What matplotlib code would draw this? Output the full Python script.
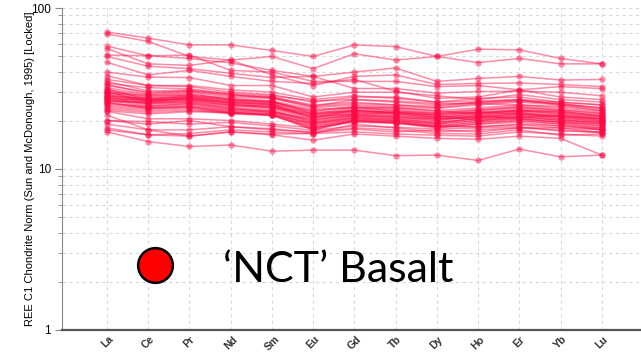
import matplotlib.pyplot as plt
from matplotlib.ticker import LogLocator, NullFormatter, FixedFormatter, FixedLocator

elements = ['La', 'Ce', 'Pr', 'Nd', 'Sm', 'Eu', 'Gd', 'Tb', 'Dy', 'Ho', 'Er', 'Yb', 'Lu']
y_ticks = [1, 10, 100]
y_tick_labels = ['1', '10', '100']

# enriched samples above the main band
high_samples = [
    [71, 65, 59, 59, 54.5, 50, 59, 57.6, 50, 55.5, 55, 48.6, 45],
    [69, 62, 50, 47.5, 50, 42, 52, 47.5, 50, 45.8, 48.6, 45, 45],
    [58, 50.5, 48.6, 45.6, 41, 37.6, 40, 42.4, 35, 36.5, 37.6, 35.7, 36],
    [56, 45, 44, 47.5, 38.4, 33, 37.6, 38.4, 33.5, 34, 34.2, 33.5, 32.5],
    [51, 50.5, 51, 41, 40, 35, 35, 35, 32.5, 33, 31, 32.5, 31.6],
    [50, 43.5, 42, 39.3, 37, 37.6, 31.6, 31.6, 29.6, 30.3, 30.4, 30, 28.5],
    [46, 38.4, 41, 37.6, 35, 34, 36, 30.4, 27.5, 28, 31, 28, 27],
    [40, 37.2, 37, 33, 33, 28, 30, 30, 28.5, 27, 29, 27, 26],
    [38, 33, 33, 31, 30, 27, 28.5, 27.5, 26, 26.5, 27, 26, 25],
    [36, 33, 32.5, 30, 29, 26, 28, 28, 26, 27.5, 28, 26, 25],
    [35, 30.5, 31, 29.5, 28.5, 26.5, 27, 26.5, 25.5, 25.5, 26.5, 25.5, 24],
    [34, 32, 31.5, 29, 28, 24.5, 27, 26, 25, 26, 27, 25, 24],
]

# main band
band_samples = [
    [33.5, 29.5, 30.5, 29, 27.5, 24.5, 25.5, 25, 24, 25.5, 25, 24.5, 23],
    [33, 30, 30.5, 28.5, 28, 25, 26, 25, 24.5, 26, 26.5, 25.5, 23.5],
    [32, 29, 30, 28, 27.5, 24, 25, 24.4, 23.8, 25, 26, 25, 23],
    [31.5, 27, 28.5, 27, 26, 22.8, 24.2, 23, 22.2, 23.2, 24.2, 23.2, 22.2],
    [31, 28.7, 29.5, 27, 26, 23, 24.5, 24, 23, 24, 25, 24, 22.5],
    [30.5, 28, 29, 27.5, 26.5, 22, 24, 23.5, 22.5, 23.5, 24.5, 23.5, 22],
    [30.2, 26.2, 27.8, 25.8, 25.2, 20.8, 23.2, 22.2, 20.8, 22.2, 23.2, 22.8, 21.2],
    [30, 27.5, 28.5, 26.5, 25.5, 21.5, 23.5, 23, 22, 23, 24, 23, 21.5],
    [29.8, 28.5, 28.8, 27, 26.5, 23.5, 24, 24, 23, 22, 23, 22.5, 21.5],
    [29.5, 27, 28, 26, 25, 21, 23, 22.5, 21.5, 22.5, 23.5, 22.5, 21],
    [29, 26.5, 27.5, 25.5, 25, 20.5, 22.5, 22, 21, 22, 23, 22, 20.5],
    [28.8, 27, 27, 25, 24.5, 20, 22, 21.5, 20.5, 21.5, 22.5, 21.5, 20],
    [28.5, 26, 26.5, 24.5, 24, 19.5, 21.5, 21, 20, 21, 22, 21, 19.5],
    [28.2, 27.5, 28, 26.5, 26, 22.5, 23, 22.5, 22, 22.5, 22, 21.5, 20.5],
    [28, 25.5, 26, 24, 23.5, 19, 21, 20.5, 19.5, 20.5, 21.5, 20.5, 19],
    [27.8, 26.5, 27.5, 25.5, 24, 21, 22, 22.5, 21.5, 20, 21, 21.5, 20.5],
    [27.5, 25, 25.5, 23.5, 23, 18.5, 20.5, 20, 19, 20, 21, 20, 18.5],
    [27.2, 26.8, 27.2, 26, 25.5, 22, 22.5, 22, 21, 21.5, 22.5, 21, 20.5],
    [27, 25.5, 26, 24, 22.5, 20, 21.5, 21, 20, 21.5, 20.5, 19.5, 19],
    [26.8, 24.5, 25, 23, 22.5, 18, 20.2, 19.8, 18.5, 19.5, 20.5, 19.5, 18],
    [26.5, 26, 27, 25, 24.5, 22, 23, 22.5, 21.5, 22.5, 23, 22, 21],
    [26.2, 25.8, 26.5, 24.8, 24.2, 21.5, 21.8, 21.5, 20.5, 21, 21.8, 20.5, 19.8],
    [26, 24, 24.5, 22.5, 22, 17.5, 20, 19.3, 18, 19, 20, 19, 17.5],
    [25.8, 23.8, 24.2, 22.2, 21.8, 19.2, 20.8, 20.2, 19.2, 20.8, 21.2, 20.2, 19.2],
    [25.5, 24.5, 25.5, 23.5, 23, 19.5, 21, 20.5, 19.5, 20.5, 21, 20, 19.5],
    [25, 24, 24.5, 23, 22.5, 20.5, 21.5, 21, 20.5, 21, 22, 21, 20],
    [24.5, 23.5, 24, 22.5, 22, 19, 20.5, 20, 19, 20, 20.5, 19.5, 18.5],
    [24, 23, 23.5, 22, 21.5, 18.5, 20, 19.5, 18.5, 19.5, 20, 19, 18],
    [23.5, 22.5, 23, 22.5, 21.5, 18, 19.8, 19.3, 18.2, 19, 19.5, 18.5, 17.5],
    [23, 22, 22.7, 22.3, 21.6, 17.5, 20, 19.5, 18.5, 18.3, 18.8, 18, 16.8],
]

# depleted samples below the band
low_samples = [
    [22.8, 20.5, 20.5, 20, 19, 18, 19.5, 19.3, 18.3, 18.3, 19, 18.5, 17.8],
    [21.6, 17.5, 16, 17, 16.5, 16.6, 19, 18, 17, 17.5, 18, 18, 17.5],
    [20, 19.7, 19, 19.5, 18.5, 17.4, 18.5, 18.2, 17.7, 18, 18.3, 17.2, 17],
    [20, 19, 20, 18.3, 17.8, 16.8, 17.7, 17, 17.5, 17, 18, 17.5, 16.8],
    [19, 17.5, 17.5, 18.3, 17.5, 17, 18, 17.5, 16.6, 16.5, 17.5, 16.2, 16.5],
    [18, 16.3, 16, 17, 16.3, 15.1, 16.5, 16, 15.5, 15.3, 16, 15.5, 12.2],
    [17.5, 16.3, 16.6, 17.5, 17, 16.6, 17, 16.5, 16.2, 16, 17, 16.5, 16],
    [17, 14.8, 13.8, 14.1, 12.9, 13.1, 13.1, 12.1, 12.2, 11.3, 13.3, 11.9, 12.2],
]

line_color = '#ff0a45'

fig = plt.figure(figsize=(6.41, 3.53), dpi=100)
ax = fig.add_axes([0.0967, 0.0652, 0.9033, 0.9121])

x = list(range(len(elements)))
for values in high_samples + band_samples + low_samples:
    ax.plot(x, values, color=line_color, alpha=0.47, linewidth=1.1,
            marker='o', markersize=4.5, markeredgewidth=0)

ax.set_yscale('log')
ax.set_ylim(1, 100)
ax.set_xlim(-1.09, 12.95)

ax.xaxis.set_major_locator(FixedLocator(x))
ax.xaxis.set_major_formatter(FixedFormatter(elements))
ax.yaxis.set_major_locator(FixedLocator(y_ticks))
ax.yaxis.set_major_formatter(FixedFormatter(y_tick_labels))
ax.yaxis.set_minor_locator(LogLocator(base=10, subs=range(2, 10)))
ax.yaxis.set_minor_formatter(NullFormatter())

for lbl in ax.get_xticklabels():
    lbl.set_rotation(45)
    lbl.set_ha('center')
    lbl.set_fontsize(7.5)
    lbl.set_fontweight('bold')
    lbl.set_family('Liberation Sans')
ax.tick_params(axis='x', length=0, pad=3, colors='#333333')
ax.tick_params(axis='y', which='major', length=5, color='#888888', labelsize=8.5, pad=3)
ax.tick_params(axis='y', which='minor', length=3, color='#888888')
for lbl in ax.get_yticklabels():
    lbl.set_family('Liberation Sans')

ax.grid(which='both', axis='y', color='#d9d9d9', linestyle=(0, (3, 3)), linewidth=0.8)
ax.grid(which='major', axis='x', color='#d9d9d9', linestyle=(0, (3, 3)), linewidth=0.8)
ax.set_axisbelow(True)

ax.spines['top'].set_visible(False)
ax.spines['right'].set_visible(False)
ax.spines['left'].set_color('#888888')
ax.spines['left'].set_linewidth(0.8)
ax.spines['bottom'].set_color('#555555')
ax.spines['bottom'].set_linewidth(1.6)

ax.set_ylabel('REE C1 Chondrite Norm (Sun and McDonough, 1995) [Locked]',
              fontsize=8, family='Liberation Sans')
ax.yaxis.set_label_coords(-0.047, 0.5)

# legend overlay
fig.lines.append(plt.Line2D([0.2418], [0.2493], transform=fig.transFigure,
                            marker='o', markersize=25, color='#ff0000',
                            markeredgecolor='black', markeredgewidth=1.8))
fig.text(0.348, 0.202, '\u2018NCT\u2019 Basalt', fontsize=31, family='Lato',
         va='baseline', ha='left', color='black')

fig.savefig('out.png', dpi=100)
